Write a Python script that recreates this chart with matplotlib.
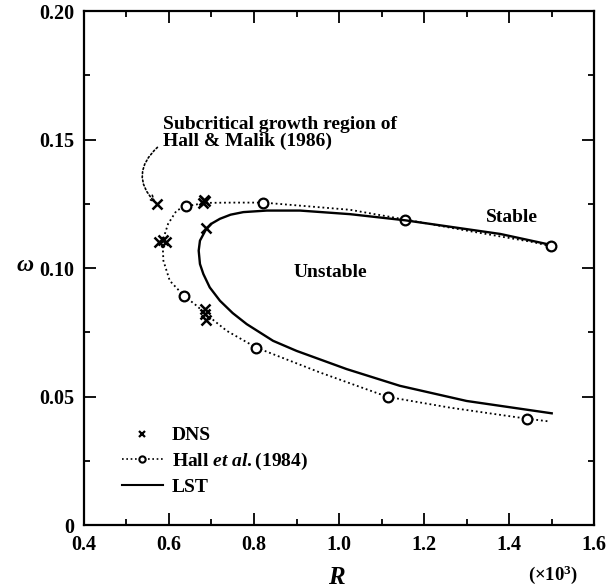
import matplotlib.pyplot as plt
from matplotlib.ticker import MultipleLocator, FixedFormatter, FixedLocator

plt.rcParams['font.family'] = ['Liberation Serif', 'DejaVu Serif']
plt.rcParams['font.weight'] = 'bold'
plt.rcParams['mathtext.fontset'] = 'custom'
plt.rcParams['mathtext.rm'] = 'Liberation Serif:bold'
plt.rcParams['mathtext.it'] = 'Liberation Serif:italic:bold'
plt.rcParams['mathtext.bf'] = 'Liberation Serif:bold'

# DNS points (x markers)
dns_R = [0.571, 0.680, 0.683, 0.686, 0.577, 0.585, 0.592, 0.685, 0.686, 0.687, 0.687]
dns_w = [0.125, 0.1255, 0.1265, 0.126, 0.110, 0.111, 0.110, 0.084, 0.082, 0.080, 0.1155]

# Hall et al. (1984) circles
hall_R = [1.498, 1.156, 0.822, 0.640, 0.635, 0.805, 1.114, 1.442]
hall_w = [0.1085, 0.1189, 0.1255, 0.1241, 0.0893, 0.0691, 0.0499, 0.0414]

# dotted curve through Hall et al. values
hall_curve_R = [1.498, 1.457, 1.300, 1.156, 1.026, 0.822, 0.751, 0.687, 0.640, 0.618,
                0.598, 0.585, 0.587, 0.602, 0.635, 0.665, 0.687, 0.736, 0.805, 0.955,
                1.114, 1.261, 1.442, 1.496]
hall_curve_w = [0.1085, 0.1101, 0.1146, 0.1189, 0.1227, 0.1255, 0.1255, 0.1254, 0.1241, 0.1224,
                0.1172, 0.1105, 0.1029, 0.0951, 0.0893, 0.0854, 0.0821, 0.0756, 0.0691, 0.0594,
                0.0499, 0.0457, 0.0414, 0.0403]

# LST neutral curve
lst_R = [1.488, 1.379, 1.156, 1.026, 0.908, 0.830, 0.775, 0.745, 0.720, 0.700, 0.687,
         0.673, 0.670, 0.673, 0.681, 0.696, 0.720, 0.750, 0.783, 0.845, 0.900, 1.018,
         1.143, 1.300, 1.500]
lst_w = [0.1094, 0.1133, 0.1186, 0.1210, 0.1224, 0.1224, 0.1218, 0.1208, 0.1192, 0.1173, 0.1150,
         0.1107, 0.1068, 0.1016, 0.0977, 0.0925, 0.0873, 0.0825, 0.0782, 0.0717, 0.0678, 0.0607,
         0.0542, 0.0483, 0.0435]

fig = plt.figure(figsize=(6.12, 5.88), dpi=100)
ax = fig.add_axes([0.137, 0.107, 0.834, 0.874])

ax.plot(hall_curve_R, hall_curve_w, color='black', lw=1.3, ls=(0, (1, 1.6)))
ax.plot(hall_R, hall_w, ls='none', marker='o', ms=7, mfc='white', mec='black', mew=1.6)
ax.plot(lst_R, lst_w, color='black', lw=1.7)
ax.plot(dns_R, dns_w, ls='none', marker='x', ms=6.5, mec='black', mew=1.8)

# proxy handles for the legend
h1, = ax.plot([], [], ls='none', marker='x', ms=4.5, mec='black', mew=1.6)
h2, = ax.plot([], [], color='black', lw=1.2, ls=(0, (1, 1.6)), marker='o', ms=4.5,
              mfc='white', mec='black', mew=1.5)
h3, = ax.plot([], [], color='black', lw=1.5)
leg = ax.legend([h1, h2, h3], ['DNS', 'Hall $\\it{et\\ al.}$(1984)', 'LST'],
                loc='lower left', bbox_to_anchor=(0.048, 0.03), frameon=False,
                fontsize=14, handlelength=2.1, handletextpad=0.45, labelspacing=0.33,
                borderpad=0.2)

ax.text(1.406, 0.1196, 'Stable', fontsize=14, ha='center', va='center')
ax.text(0.979, 0.0983, 'Unstable', fontsize=14, ha='center', va='center')
ax.text(0.586, 0.1525, 'Subcritical growth region of\nHall & Malik (1986)', fontsize=14,
        ha='left', va='center', linespacing=1.0)
ax.annotate('', xy=(0.568, 0.1255), xytext=(0.573, 0.147),
            arrowprops=dict(arrowstyle='->', color='black', lw=1.2, ls=(0, (1, 1.5)),
                            connectionstyle='arc3,rad=0.5', shrinkA=0, shrinkB=0))

ax.set_xlim(0.4, 1.6)
ax.set_ylim(0, 0.2)
ax.xaxis.set_major_locator(MultipleLocator(0.2))
ax.xaxis.set_minor_locator(MultipleLocator(0.1))
ax.yaxis.set_major_locator(FixedLocator([0, 0.05, 0.10, 0.15, 0.20]))
ax.yaxis.set_major_formatter(FixedFormatter(['0', '0.05', '0.10', '0.15', '0.20']))
ax.yaxis.set_minor_locator(MultipleLocator(0.025))
ax.tick_params(which='both', direction='in', top=True, right=True, labelsize=14.5,
               width=1.3, pad=7)
ax.tick_params(which='major', length=8.5)
ax.tick_params(which='minor', length=4.5)
for s in ax.spines.values():
    s.set_linewidth(1.6)

ax.set_xlabel('$\\it{R}$', fontsize=18)
ax.xaxis.set_label_coords(0.496, -0.082)
ax.set_ylabel('$\\omega$', fontsize=17, rotation=0, ha='right', va='center')
ax.yaxis.set_label_coords(-0.098, 0.505)
fig.text(0.904, 0.022, '(×10$^3$)', fontsize=13.5, ha='center', va='center')

fig.savefig('out.png', dpi=100)
